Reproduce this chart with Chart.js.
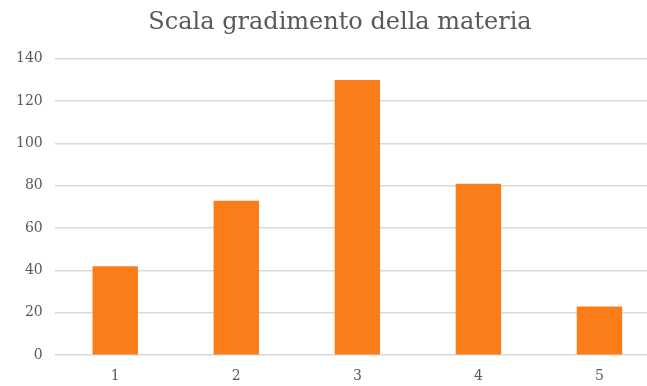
<!DOCTYPE html>
<html>
<head>
<meta charset="utf-8">
<script src="https://cdn.jsdelivr.net/npm/chart.js@4/dist/chart.umd.min.js"></script>
<style>
  html, body { margin: 0; padding: 0; background: #fff; overflow: hidden; }
  /* plot runs past the right edge in the original, so the canvas is a bit wider than the window */
  #wrap { width: 660px; height: 386px; }
</style>
</head>
<body>
<div id="wrap"><canvas id="chart-bar"></canvas></div>
<script>
const categories = ["1", "2", "3", "4", "5"];
const values = [42, 73, 130, 81, 23];
const yTicks = [0, 20, 40, 60, 80, 100, 120, 140];

const fontFamily = "'DejaVu Serif', 'Liberation Serif', serif";

// nudge the title a bit to the right, like in the original picture
const titleShift = {
  id: "titleShift",
  afterLayout(chart) {
    if (chart.titleBlock) chart.titleBlock.left += 16;
  }
};

const barChart = new Chart(document.getElementById("chart-bar"), {
  type: "bar",
  data: {
    labels: categories,
    datasets: [{
      data: values,
      backgroundColor: "#fa7d1a", // orange bars
      borderWidth: 0,
      categoryPercentage: 1,
      barPercentage: 0.375
    }]
  },
  options: {
    responsive: true,
    maintainAspectRatio: false,
    animation: false,
    layout: { padding: { left: 4, right: 0, top: 8, bottom: -4 } },
    plugins: {
      legend: { display: false },
      tooltip: { enabled: false },
      title: {
        display: true,
        text: "Scala gradimento della materia",
        color: "#595959",
        font: { family: fontFamily, size: 24, weight: "normal" },
        padding: { top: 0, bottom: 22 }
      }
    },
    scales: {
      x: {
        grid: { display: false },
        border: { display: false },
        ticks: { color: "#595959", font: { family: fontFamily, size: 14 }, padding: 5 }
      },
      y: {
        min: 0,
        max: 140,
        afterBuildTicks: (axis) => { axis.ticks = yTicks.map(v => ({ value: v })); },
        grid: { color: "#d9d9d9", lineWidth: 1.5, drawTicks: false },
        border: { display: false },
        ticks: { color: "#595959", font: { family: fontFamily, size: 14 }, padding: 12 }
      }
    }
  },
  plugins: [titleShift]
});
</script>
</body>
</html>
